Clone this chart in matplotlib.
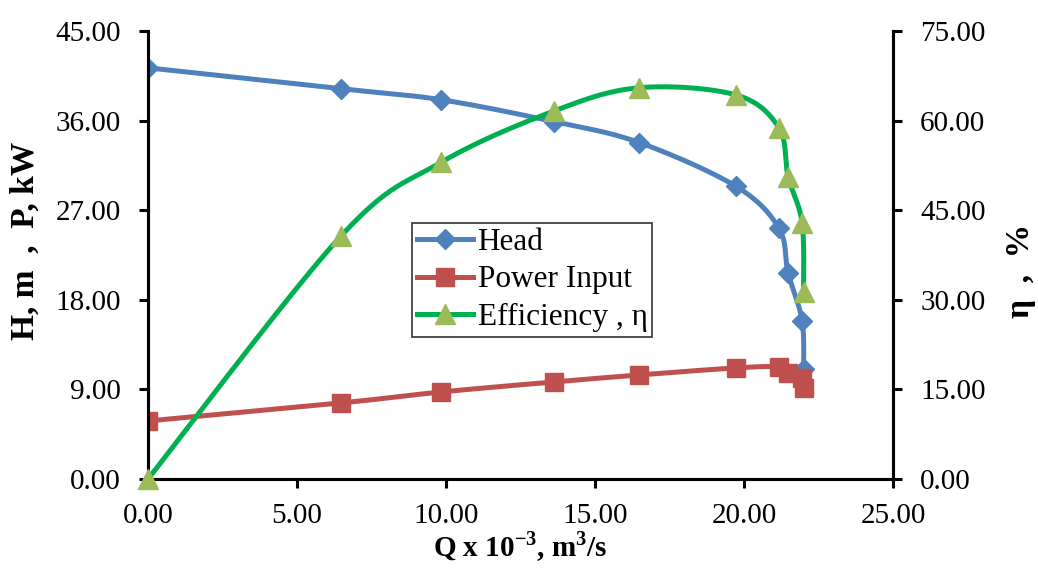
import numpy as np
import matplotlib
matplotlib.use("Agg")
import matplotlib.pyplot as plt
from matplotlib.lines import Line2D

plt.rcParams['font.family'] = ['Liberation Serif', 'DejaVu Serif']
plt.rcParams['mathtext.fontset'] = 'custom'
plt.rcParams['mathtext.rm'] = 'Liberation Serif'
plt.rcParams['mathtext.bf'] = 'Liberation Serif:bold'

# Data
q = [0.0, 6.48, 9.83, 13.62, 16.48, 19.73, 21.17, 21.48, 21.95, 22.0]
head = [41.3, 39.2, 38.1, 35.9, 33.8, 29.4, 25.2, 20.7, 15.9, 11.0]
power = [5.83, 7.64, 8.74, 9.75, 10.45, 11.16, 11.26, 10.65, 10.15, 9.15]
q_eff = [0.0, 6.48, 9.83, 13.62, 16.48, 19.73, 21.17, 21.48, 21.95, 22.0]
eff = [0.0, 40.7, 53.0, 61.6, 65.5, 64.3, 58.8, 50.6, 42.9, 31.3]

left_ticks = [0, 9, 18, 27, 36, 45]
right_ticks = [0, 15, 30, 45, 60, 75]
x_ticks = [0, 5, 10, 15, 20, 25]

BLUE = '#4F81BD'
RED = '#C0504D'
GREEN = '#00B050'
TRI = '#9BBB59'


def smooth(x, y, xr, yr, n=40):
    """Excel-like smoothed line (Catmull-Rom / Bezier) in pixel-proportional space."""
    x = np.asarray(x, float) / xr
    y = np.asarray(y, float) / yr
    P = np.column_stack([x, y])
    pts = []
    m = len(P)
    for i in range(m - 1):
        p0 = P[i - 1] if i > 0 else P[i]
        p1 = P[i]
        p2 = P[i + 1]
        p3 = P[i + 2] if i + 2 < m else P[i + 1]
        c1 = p1 + (p2 - p0) / 6.0
        c2 = p2 - (p3 - p1) / 6.0
        t = np.linspace(0, 1, n)[:, None]
        seg = ((1 - t) ** 3) * p1 + 3 * ((1 - t) ** 2) * t * c1 + 3 * (1 - t) * t ** 2 * c2 + t ** 3 * p2
        if i > 0:
            seg = seg[1:]
        pts.append(seg)
    S = np.vstack(pts)
    return S[:, 0] * xr, S[:, 1] * yr


fig = plt.figure(figsize=(10.38, 5.68), dpi=100)
ax = fig.add_axes([148 / 1038, 1 - 479 / 568, (893 - 148) / 1038, (479 - 31) / 568])
ax2 = ax.twinx()

# x span 25 -> 745 px, y span 45 -> 448 px
xs, ys = smooth(q, head, 25 / 745, 45 / 448)
ax.plot(xs, ys, color=BLUE, lw=3.6, solid_capstyle='round', zorder=2)
ax.plot(q, head, ls='none', marker='D', ms=10, color=BLUE, zorder=3)

xs, ys = smooth(q, power, 25 / 745, 45 / 448)
ax.plot(xs, ys, color=RED, lw=3.6, solid_capstyle='round', zorder=4)
ax.plot(q, power, ls='none', marker='s', ms=13.5, color=RED, zorder=5)

xs, ys = smooth(q_eff, eff, 25 / 745, 75 / 448)
ax2.plot(xs, ys, color=GREEN, lw=3.6, solid_capstyle='round', zorder=2, clip_on=False)
ax2.plot(q_eff, eff, ls='none', marker='^', ms=14, color=TRI, zorder=3, clip_on=False)

ax.set_xlim(0, 25)
ax.set_ylim(0, 45)
ax2.set_ylim(0, 75)
ax.set_xticks(x_ticks)
ax.set_yticks(left_ticks)
ax2.set_yticks(right_ticks)
ax.set_xticklabels([f"{v:.2f}" for v in x_ticks])
ax.set_yticklabels([f"{v:.2f}" for v in left_ticks])
ax2.set_yticklabels([f"{v:.2f}" for v in right_ticks])

for a in (ax, ax2):
    for s in a.spines.values():
        s.set_linewidth(2.2)
        s.set_color('black')
    a.spines['top'].set_visible(False)
ax.tick_params(axis='y', direction='out', length=6.5, width=2.2, labelsize=21, pad=13)
ax.tick_params(axis='x', direction='out', length=6.5, width=2.2, labelsize=21, pad=11)
ax2.tick_params(axis='y', direction='out', length=6.5, width=2.2, labelsize=21, pad=13)

ax.set_xlabel(r"Q x 10$^{\mathbf{-3}}$, m$^{\mathbf{3}}$/s", fontsize=21, fontweight='bold', labelpad=0)
fig.text(25 / 1038, 1 - 241 / 568, "H, m  ,  P, kW", fontsize=24, fontweight='bold',
         rotation=90, ha='center', va='center')
fig.text(1021 / 1038, 1 - 271 / 568, "η  ,  %", fontsize=24, fontweight='bold',
         rotation=90, ha='center', va='center')

handles = [
    Line2D([], [], color=BLUE, lw=3.6, marker='D', ms=10),
    Line2D([], [], color=RED, lw=3.6, marker='s', ms=13.5),
    Line2D([], [], color=GREEN, lw=3.6, marker='^', ms=14, mfc=TRI, mec=TRI),
]
leg = ax2.legend(handles, ["Head", "Power Input", "Efficiency , η"],
                 loc='upper left', bbox_to_anchor=((412 - 148) / 745, (479 - 223) / 448),
                 fontsize=22.5, frameon=True, fancybox=False, borderpad=0.15,
                 handlelength=1.8, handletextpad=0.15, labelspacing=0.28, borderaxespad=0)
leg.get_frame().set_edgecolor('black')
leg.get_frame().set_linewidth(1.2)

fig.savefig("out.png", dpi=100)
